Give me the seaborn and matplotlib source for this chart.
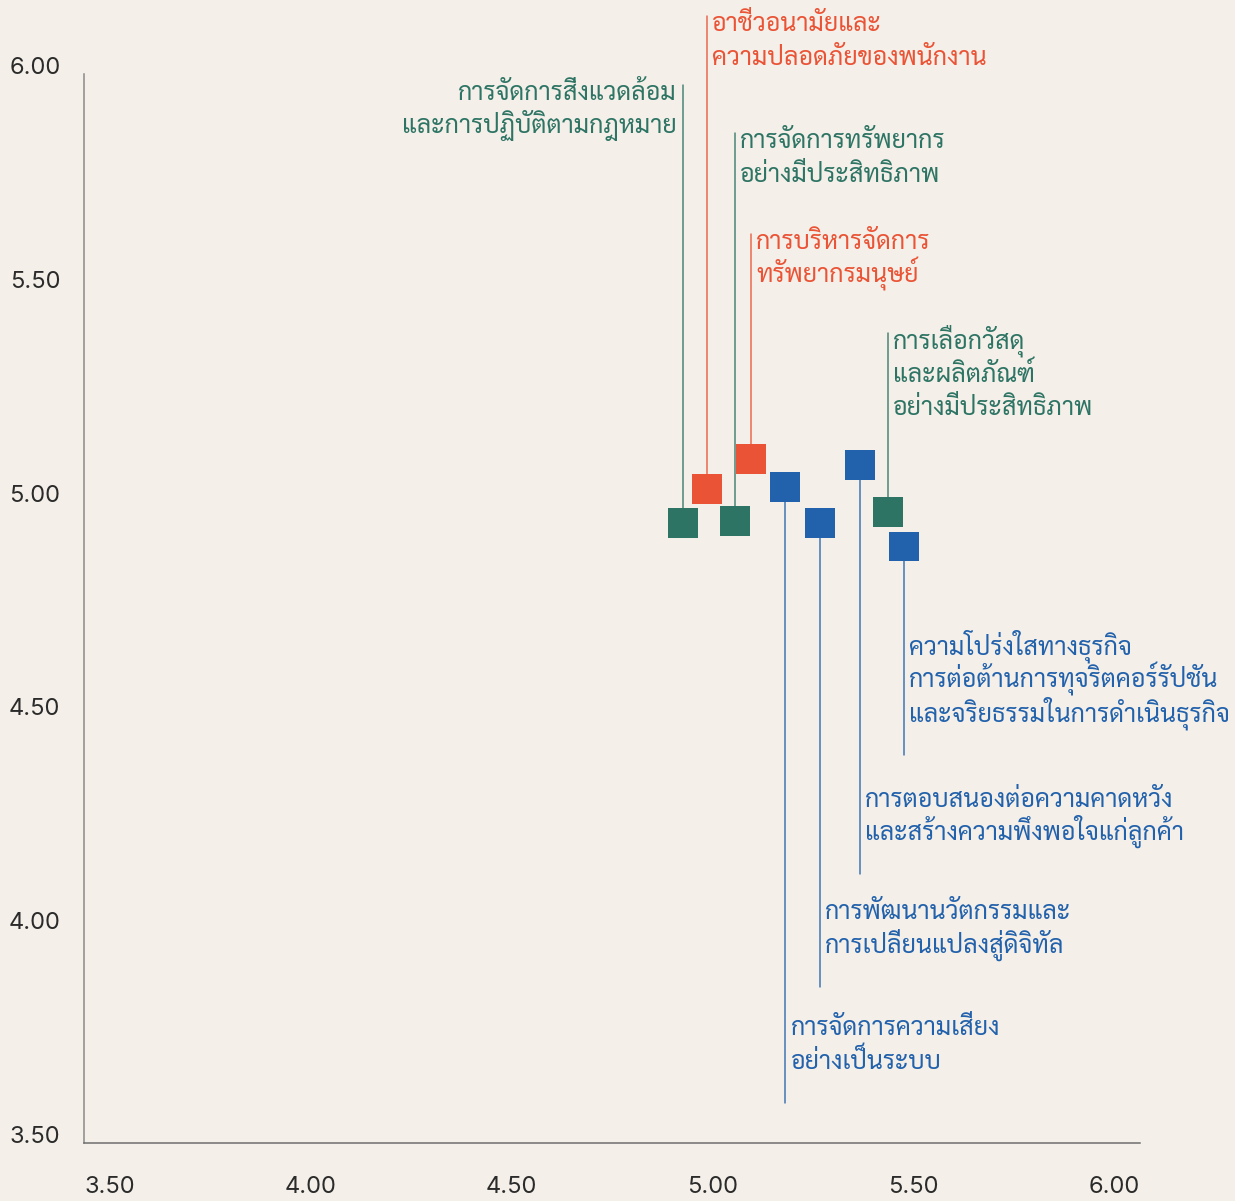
import numpy as np
import pandas as pd
import matplotlib
matplotlib.use("Agg")
import matplotlib.pyplot as plt
import seaborn as sns
from matplotlib import font_manager
from matplotlib.ft2font import FT2Font

# topics (one label per square)
topics = [
    "การจัดการสิ่งแวดล้อม\nและการปฏิบัติตามกฎหมาย",
    "อาชีวอนามัยและ\nความปลอดภัยของพนักงาน",
    "การจัดการทรัพยากร\nอย่างมีประสิทธิภาพ",
    "การบริหารจัดการ\nทรัพยากรมนุษย์",
    "การจัดการความเสี่ยง\nอย่างเป็นระบบ",
    "การพัฒนานวัตกรรมและ\nการเปลี่ยนแปลงสู่ดิจิทัล",
    "การตอบสนองต่อความคาดหวัง\nและสร้างความพึงพอใจแก่ลูกค้า",
    "การเลือกวัสดุ\nและผลิตภัณฑ์\nอย่างมีประสิทธิภาพ",
    "ความโปร่งใสทางธุรกิจ\nการต่อต้านการทุจริตคอร์รัปชัน\nและจริยธรรมในการดำเนินธุรกิจ",
]
groups = ["env", "social", "env", "social", "gov", "gov", "gov", "env", "gov"]
x_vals = [4.99, 5.05, 5.12, 5.16, 5.245, 5.33, 5.43, 5.50, 5.54]
y_vals = [4.95, 5.03, 4.955, 5.10, 5.035, 4.95, 5.085, 4.975, 4.895]

x_ticks = [3.5, 4.0, 4.5, 5.0, 5.5, 6.0]
y_ticks = [3.5, 4.0, 4.5, 5.0, 5.5, 6.0]

# leader line ends (layout) and label side
leader_end = [5.975, 6.135, 5.862, 5.626, 3.594, 3.865, 4.129, 5.394, 4.407]
label_left = [True, False, False, False, False, False, False, False, False]

colors = {"env": "#2e7464", "social": "#ea5335", "gov": "#2261ab"}
bg = "#f4f0e9"

# find a font that has Thai glyphs
thai_font = None
cands = []
for f in font_manager.fontManager.ttflist:
    try:
        if 0x0E01 in FT2Font(f.fname).get_charmap():
            cands.append(f.name)
    except Exception:
        pass
for pref in ["Sarabun", "Noto Sans Thai", "Noto Sans Thai UI", "Loma", "Garuda", "Tlwg Typo"]:
    if pref in cands:
        thai_font = pref
        break
if thai_font is None and cands:
    thai_font = sorted(set(cands))[0]

sns.set_style("white")
fams = ["Inter", "DejaVu Sans"]
if thai_font:
    fams = [thai_font] + fams
plt.rcParams["font.family"] = fams

df = pd.DataFrame({"x": x_vals, "y": y_vals, "group": groups, "topic": topics})

fig = plt.figure(figsize=(12.35, 12.01), dpi=100, facecolor=bg)
ax = fig.add_axes([84 / 1235, 1 - 1143 / 1201, (1140 - 84) / 1235, (1143 - 74) / 1201])
ax.set_facecolor(bg)

# leader lines
for i, row in df.iterrows():
    c = colors[row["group"]]
    ax.plot([row["x"], row["x"]], [row["y"], leader_end[i]], color=c, lw=1.1,
            alpha=0.85, clip_on=False, zorder=1)

sns.scatterplot(data=df, x="x", y="y", hue="group", palette=colors, marker="s",
                s=466, linewidth=0, legend=False, ax=ax, zorder=3)

PX = 0.72  # points per pixel at 100 dpi
step = 33.5
for i, row in df.iterrows():
    c = colors[row["group"]]
    lines = row["topic"].split("\n")
    n = len(lines)
    up = leader_end[i] > row["y"]
    if label_left[i]:
        dx, ha = -6, "right"
    else:
        dx, ha = 5, "left"
    for k, line in enumerate(lines):
        if up:
            dy = -(15 + step * k)
        else:
            dy = 34 + step * (n - 1 - k)
        ax.annotate(line, (row["x"], leader_end[i]), xytext=(dx * PX, dy * PX),
                    textcoords="offset points", ha=ha, va="baseline", color=c,
                    fontsize=18, annotation_clip=False)

ax.set_xlim(3.5, 3.5 + 1056 / 402)
ax.set_ylim(3.5, 6.0)
ax.set_xticks(x_ticks)
ax.set_yticks(y_ticks)
ax.set_xticklabels([f"{v:.2f}" for v in x_ticks], ha="left", family=["Inter", "DejaVu Sans"])
ax.set_yticklabels([f"{v:.2f}" for v in y_ticks], family=["Inter", "DejaVu Sans"])
for lab in ax.get_yticklabels():
    lab.set_va("baseline")
ax.tick_params(axis="both", length=0, labelsize=17, colors="#2b2b2b")
ax.tick_params(axis="x", pad=24)
ax.tick_params(axis="y", pad=17)
ax.set_xlabel("")
ax.set_ylabel("")

sns.despine(ax=ax)
ax.spines["left"].set_color("#8a8a8a")
ax.spines["bottom"].set_color("#6e6e6e")
ax.spines["left"].set_linewidth(1.1)
ax.spines["bottom"].set_linewidth(1.1)

fig.savefig("out.png", dpi=100, facecolor=bg)
